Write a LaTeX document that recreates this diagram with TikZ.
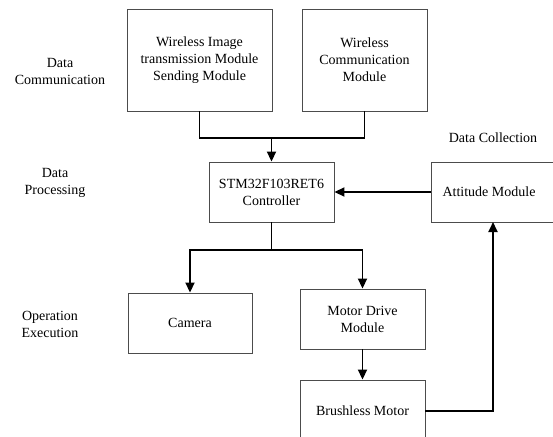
\documentclass[tikz,border=0pt]{standalone}
\usepackage{fontspec}
\setmainfont{Liberation Serif}
\usetikzlibrary{arrows.meta}
\begin{document}
\begin{tikzpicture}[x=1pt,y=-1pt,
  every node/.style={font=\fontsize{14}{17}\selectfont, align=center},
  box/.style={draw=black!70, line width=0.9pt, rectangle, inner sep=0pt},
  plain/.style={inner sep=0pt},
  link/.style={draw=black, line width=1.8pt},
  flow/.style={link, -{Triangle[width=9pt,length=10pt]}}]
\useasboundingbox (0,0) rectangle (553,436);
\clip (0,0) rectangle (553,436);
\fill[white] (0,0) rectangle (553,436);

% stage labels
\node[plain] (lcomm) at (60,71) {Data\\Communication};
\node[plain] (lproc) at (55,183) {Data\\Processing};
\node[plain] (lexec) at (50,324) {Operation\\Execution};
\node[plain] (lcoll) at (493,138) {Data Collection};

% blocks
\node[box, minimum width=145pt, minimum height=102pt] (wit) at (199.5,60)
  {Wireless Image\\transmission Module\\Sending Module};
\node[box, minimum width=125pt, minimum height=102pt] (wcm) at (364.5,60)
  {Wireless\\Communication\\Module};
\node[box, minimum width=125pt, minimum height=60pt] (stm) at (271.5,192)
  {STM32F103RET6\\Controller};
% the attitude block runs past the right edge of the page
\node[box, minimum width=200pt, minimum height=60pt] (att) at (531,192) {};
\node[plain] (attlbl) at (489,192) {Attitude Module};
\node[box, minimum width=124pt, minimum height=60pt] (cam) at (190,323) {Camera};
\node[box, minimum width=125pt, minimum height=60pt] (mdm) at (362.5,319)
  {Motor Drive\\Module};
\node[box, minimum width=125pt, minimum height=62pt] (bm) at (362.5,411)
  {Brushless Motor};

% connectors
\coordinate (join) at (271.5,138);
\coordinate (split) at (271.5,250);
\coordinate (attin) at (493,222);
\draw[link] (wit.south) |- (join) -| (wcm.south);
\draw[flow] (join) -- (stm.north);
\draw[link] (stm.south) -- (split);
\draw[flow] (split) -| (cam.north);
\draw[flow] (split) -| (mdm.north);
\draw[flow] (mdm.south) -- (bm.north);
\draw[flow] (att.west |- stm.east) -- (stm.east);
\draw[flow] (bm.east) -| (attin);
\end{tikzpicture}
\end{document}
